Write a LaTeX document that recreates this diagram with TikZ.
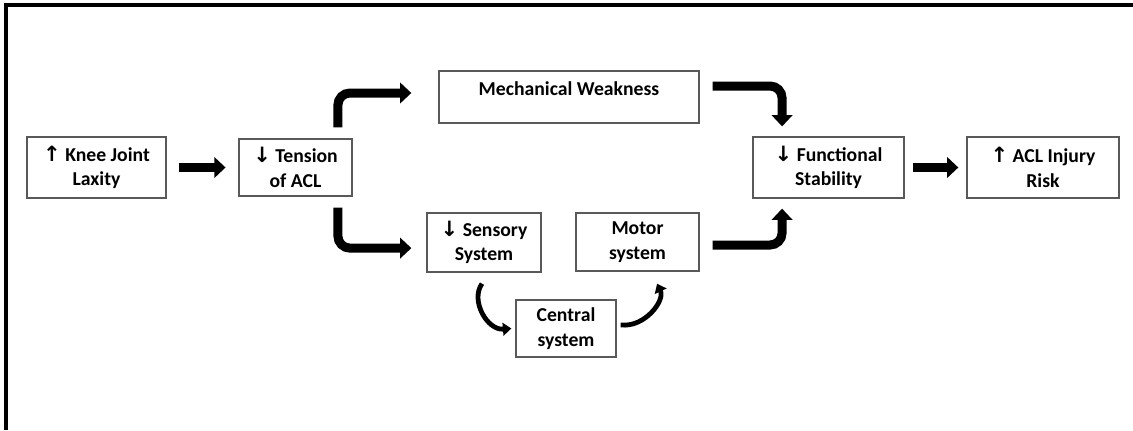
\documentclass[tikz,border=0pt]{standalone}
\usepackage{fontspec}
\setmainfont{Carlito}
\newfontfamily\arrowfont{DejaVu Sans}
\usetikzlibrary{arrows.meta,calc}
\newcommand{\upar}{{\arrowfont\fontsize{15}{18}\selectfont ↑}}
\newcommand{\dnar}{{\arrowfont\fontsize{15}{18}\selectfont ↓}}
\begin{document}
\begin{tikzpicture}[x=0.025cm,y=-0.025cm,
  box/.style={draw=black!65,line width=0.9pt,align=center,inner sep=0pt,
    font=\fontsize{14}{17.5}\selectfont\bfseries},
  bigarrow/.style={line width=6.4pt,rounded corners=0.3cm,
    -{Triangle[width=14.5pt,length=8pt]}},
  smallarrow/.style={line width=3.4pt,
    -{Triangle[width=9pt,length=6pt]}},
  frameline/.style={line width=2.5pt}]
\useasboundingbox (0,0) rectangle (1133,430);
\draw[frameline] (6,430) -- (6,5) -- (1133,5);

\node[box,minimum width=3.475cm,minimum height=1.525cm] (knee) at (96.5,167.5) {\upar\ Knee Joint\\Laxity};
\node[box,minimum width=2.825cm,minimum height=1.425cm] (tension) at (295.5,167.5) {\dnar\ Tension\\of ACL};
\node[box,minimum width=6.5cm,minimum height=1.3cm] (mech) at (569,97) {Mechanical Weakness\\[-5pt]~};
\node[box,minimum width=2.85cm,minimum height=1.475cm] (sensory) at (484,242.5) {\dnar\ Sensory\\System};
\node[box,minimum width=3.075cm,minimum height=1.45cm] (motor) at (637.5,242) {Motor\\system};
\node[box,minimum width=2.5cm,minimum height=1.425cm] (central) at (566,328.5) {Central\\system};
\node[box,minimum width=3.775cm,minimum height=1.525cm] (func) at (828.5,167.5) {\dnar\ Functional\\Stability};
\node[box,minimum width=3.8cm,minimum height=1.525cm] (acl) at (1043,167.5) {\upar\ ACL Injury\\Risk};

\draw[bigarrow,shorten <=0.3cm,shorten >=0.32cm] (knee) -- (tension);
\draw[bigarrow] ([xshift=1.06cm,yshift=0.275cm]tension.north) |- ([xshift=-0.675cm,yshift=0.1cm]mech.west);
\draw[bigarrow] ([xshift=1.06cm,yshift=-0.275cm]tension.south) |- ([xshift=-0.375cm,yshift=-0.14cm]sensory.west);
\draw[bigarrow] ([xshift=0.325cm,yshift=0.275cm]mech.east) -| ([xshift=-1.16cm,yshift=0.25cm]func.north);
\draw[bigarrow] ([xshift=0.325cm,yshift=-0.075cm]motor.east) -| ([xshift=-1.16cm,yshift=-0.25cm]func.south);
\draw[bigarrow,shorten <=0.2cm,shorten >=0.2cm] (func) -- (acl);

\draw[smallarrow] ([xshift=-0.05cm,yshift=-0.275cm]sensory.south) .. controls +(-0.3cm,-0.425cm) and +(-0.6cm,-0.05cm) .. ([xshift=-0.1cm]central.west);
\draw[smallarrow] ([xshift=0.1cm,yshift=0.09cm]central.east) .. controls +(0.6cm,-0.075cm) and +(0.2cm,-0.425cm) .. ([xshift=0.49cm,yshift=-0.3cm]motor.south);
\end{tikzpicture}
\end{document}
